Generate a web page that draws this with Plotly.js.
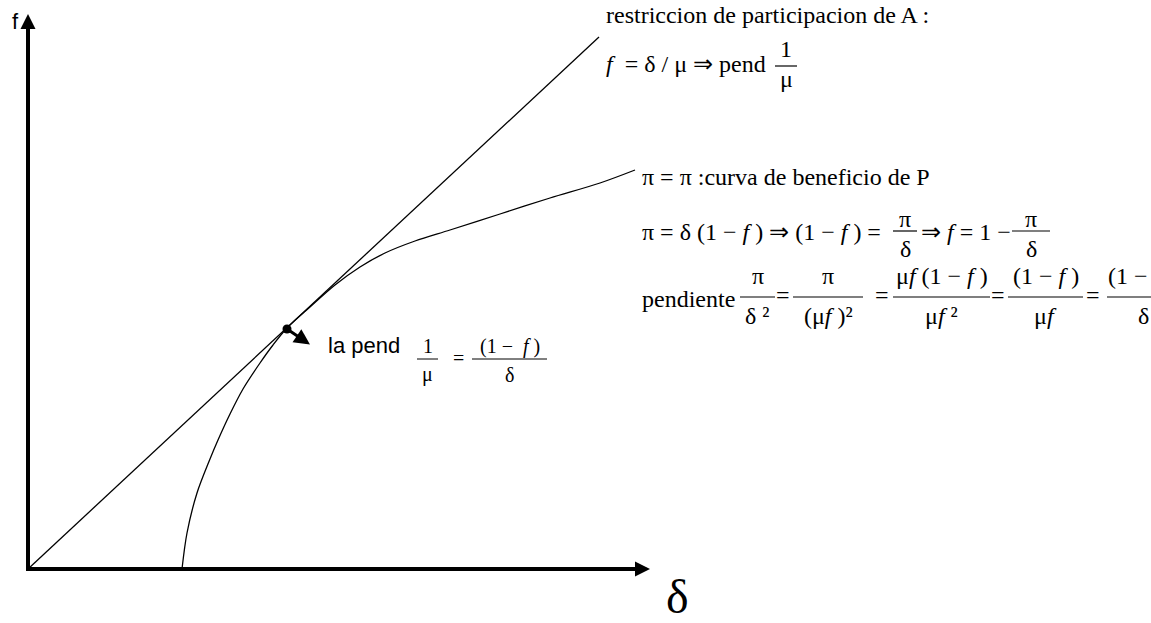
<!DOCTYPE html>
<html><head><meta charset="utf-8">
<script src="https://cdn.plot.ly/plotly-3.0.1.min.js"></script>
<style>html,body{margin:0;padding:0;background:#fff}</style>
</head><body><div id="chart" style="width:1151px;height:623px"></div>
<script>
// ---- Data (x = δ, y = f) ----
const restriccionDelta = [0, 5.71];
const restriccionF = [0, 5.32];
const beneficioDelta = [1.54, 1.59, 1.69, 1.82, 1.90, 2.02, 2.15, 2.32, 2.45, 2.59, 2.82, 3.07, 3.32, 3.57, 3.87, 4.22, 4.72, 5.22, 5.72, 6.07];
const beneficioF     = [0.00, 0.36, 0.76, 1.10, 1.29, 1.55, 1.80, 2.06, 2.24, 2.41, 2.62, 2.84, 3.02, 3.16, 3.28, 3.39, 3.55, 3.71, 3.86, 3.99];
const tangenciaDelta = [2.59];
const tangenciaF = [2.40];
const flechaDelta = [2.59, 2.82];
const flechaF = [2.40, 2.245];
const ejeDeltaMax = 6.22;
const ejeFMax = 5.55;

// ---- Layout helpers ----
const W = 1151, H = 623;
const SERIF = 'Liberation Serif, Times New Roman, serif';
const SANS = 'Liberation Sans, Arial, sans-serif';
const NB = '\u00A0';
const px = x => x / W, py = y => 1 - y / H;
const ann = [];
const shapes = [];
function T(text, x, y, o) {
  o = o || {};
  ann.push({text: text, x: px(x), y: py(y), xref: 'paper', yref: 'paper',
    xanchor: o.anchor || 'center', yanchor: 'middle', showarrow: false,
    font: {family: o.family || SERIF, size: o.size || 24, color: '#000'}});
}
function bar(x0, x1, y, w) {
  shapes.push({type: 'line', xref: 'paper', yref: 'paper', x0: px(x0), x1: px(x1), y0: py(y), y1: py(y),
    line: {color: '#000', width: w || 1.2}});
}
function frac(num, den, x0, x1, y, o) {
  o = o || {};
  const c = (x0 + x1) / 2;
  bar(x0, x1, y, o.w);
  T(num, o.numX || c, y - (o.dn || 20), {size: o.size, anchor: o.numAnchor});
  T(den, o.denX || c, y + (o.dd || 19), {size: o.size});
}

// axes lines
shapes.push({type: 'line', xref: 'x', yref: 'y', x0: 0, y0: -0.02, x1: 0, y1: ejeFMax - 0.08, line: {color: '#000', width: 4}});
shapes.push({type: 'line', xref: 'x', yref: 'y', x0: -0.02, y0: 0, x1: ejeDeltaMax - 0.08, y1: 0, line: {color: '#000', width: 4}});
// arrow heads
ann.push({x: 0, y: ejeFMax, ax: 0, ay: ejeFMax - 0.4, xref: 'x', yref: 'y', axref: 'x', ayref: 'y', text: '',
  showarrow: true, arrowhead: 2, arrowsize: 0.75, arrowwidth: 4, arrowcolor: '#000'});
ann.push({x: ejeDeltaMax, y: 0, ax: ejeDeltaMax - 0.4, ay: 0, xref: 'x', yref: 'y', axref: 'x', ayref: 'y', text: '',
  showarrow: true, arrowhead: 2, arrowsize: 0.75, arrowwidth: 4, arrowcolor: '#000'});
// small arrow from tangency point
ann.push({x: flechaDelta[1], y: flechaF[1], ax: flechaDelta[0], ay: flechaF[0], xref: 'x', yref: 'y', axref: 'x', ayref: 'y', text: '',
  showarrow: true, arrowhead: 2, arrowsize: 1.05, arrowwidth: 3, arrowcolor: '#000'});

// axis labels
T('f', 16, 22, {family: SANS, size: 22});
T('δ', 677, 596, {size: 48});

// restriccion de participacion
T('restriccion de participacion de A :', 604, 15, {anchor: 'left'});
T('<i>f</i>' + NB + ' = δ / μ ⇒ pend', 604, 64, {anchor: 'left'});
frac('1', 'μ', 775, 797, 66, {dn: 17, dd: 13});

// curva de beneficio
T('π = π :curva de beneficio de P', 640, 177, {anchor: 'left'});
T('π = δ (1 − <i>f</i> ) ⇒ (1 − <i>f</i> ) =', 640, 232, {anchor: 'left'});
frac('π', 'δ', 893, 917, 231, {dn: 12, dd: 18});
T('⇒ <i>f</i> = 1 −', 919, 232, {anchor: 'left'});
frac('π', 'δ', 1012, 1050, 231, {dn: 12, dd: 18});

// pendiente
T('pendiente', 640, 299, {anchor: 'left'});
frac('π', 'δ ²', 740, 775, 297, {dn: 21, dd: 19});
T('=', 783, 295);
frac('π', '(μ<i>f</i> )²', 793, 863, 297, {dn: 21, dd: 19});
T('=', 882, 295);
frac('μ<i>f</i> (1 − <i>f</i> )', 'μ<i>f</i> ²', 893, 990, 297, {dn: 21, dd: 19});
T('=', 998, 295);
frac('(1 − <i>f</i> )', 'μ<i>f</i>', 1008, 1083, 297, {dn: 21, dd: 19});
T('=', 1093, 295);
frac('(1 −', 'δ', 1107, 1151, 297, {dn: 21, dd: 19, numX: 1106, numAnchor: 'left', denX: 1143});

// la pend
T('la pend', 326, 345, {anchor: 'left', family: SANS, size: 22});
frac('1', 'μ', 417, 438, 359, {size: 20, dn: 13, dd: 15, w: 1});
T('=', 458, 358, {size: 20});
frac('(1' + NB + '−' + NB + NB + '<i>f</i>' + NB + ')', 'δ', 472, 547, 359, {size: 20, dn: 13, dd: 16, w: 1});

const traces = [
  {x: restriccionDelta, y: restriccionF, mode: 'lines', line: {color: '#000', width: 1.3}, hoverinfo: 'skip'},
  {x: beneficioDelta, y: beneficioF, mode: 'lines', line: {color: '#000', width: 1.3, shape: 'spline', smoothing: 0.9}, hoverinfo: 'skip'},
  {x: tangenciaDelta, y: tangenciaF, mode: 'markers', marker: {color: '#000', size: 9}, hoverinfo: 'skip'}
];

const layout = {
  width: W, height: H,
  margin: {l: 0, r: 0, t: 0, b: 0},
  paper_bgcolor: '#fff', plot_bgcolor: '#fff',
  showlegend: false,
  xaxis: {range: [-0.28, 11.23], visible: false, fixedrange: true},
  yaxis: {range: [-0.54, 5.69], visible: false, fixedrange: true},
  annotations: ann,
  shapes: shapes
};
Plotly.newPlot('chart', traces, layout, {displayModeBar: false, staticPlot: true});
</script></body></html>
